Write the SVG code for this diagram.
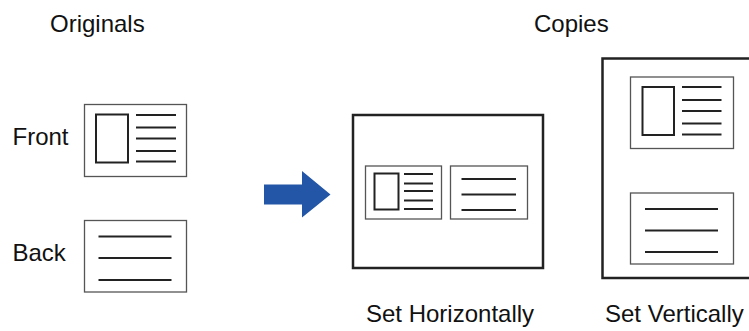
<svg xmlns="http://www.w3.org/2000/svg" width="749" height="331" viewBox="0 0 749 331">
<style>
  text { font-family: "Liberation Sans", Arial, sans-serif; font-size: 24px; fill: #111; }
  .card { fill: #fff; stroke: #555; stroke-width: 1.3; }
  .photo { fill: #fff; stroke: #222; stroke-width: 2; }
  .ln { stroke: #222; stroke-width: 2; fill: none; }
  .page { fill: #fff; stroke: #222; stroke-width: 2.5; }
</style>
<rect width="749" height="331" fill="#fff"/>
<text x="50" y="32">Originals</text>
<text x="534" y="32">Copies</text>
<text x="12.5" y="145">Front</text>
<text x="12.5" y="261">Back</text>
<text x="366" y="322">Set Horizontally</text>
<text x="605" y="322">Set Vertically</text>

<g id="front">
  <rect class="card" x="84.5" y="104.5" width="102" height="72"/>
  <rect class="photo" x="96" y="114.5" width="32" height="48"/>
  <path class="ln" d="M136 115H176M136 127.5H176M136 138.5H176M136 151H176M136 161.5H176"/>
</g>
<g id="back">
  <rect class="card" x="84.5" y="220.5" width="102" height="71.5"/>
  <path class="ln" d="M98.5 236.5H171.5M98.5 258H171.5M98.5 280H171.5"/>
</g>
<g id="connectors">
  <polygon points="264,184.5 302,184.5 302,171 330.5,194.5 302,217.5 302,204.5 264,204.5" fill="#2356a6"/>
</g>
<g id="horizontal">
  <rect class="page" x="353" y="115" width="190" height="153"/>
  <rect class="card" x="365.5" y="166" width="76" height="53"/>
  <rect class="photo" x="374.5" y="173.5" width="24" height="36"/>
  <path class="ln" d="M404 174H433M404 183.5H433M404 191H433M404 200.5H433M404 209H433"/>
  <rect class="card" x="450.5" y="166" width="77" height="53"/>
  <path class="ln" d="M461.5 179H516M461.5 194.5H516M461.5 210H516"/>
</g>
<g id="vertical">
  <rect class="page" x="602.5" y="58.5" width="170" height="219.5"/>
  <rect class="card" x="630.5" y="77" width="103" height="71.5"/>
  <rect class="photo" x="642.5" y="87" width="31.5" height="48"/>
  <path class="ln" d="M682 87H721.5M682 100H721.5M682 111H721.5M682 123.5H721.5M682 134.5H721.5"/>
  <rect class="card" x="630.5" y="193" width="103" height="71"/>
  <path class="ln" d="M645 209H718M645 230.5H718M645 252H718"/>
</g>
</svg>
